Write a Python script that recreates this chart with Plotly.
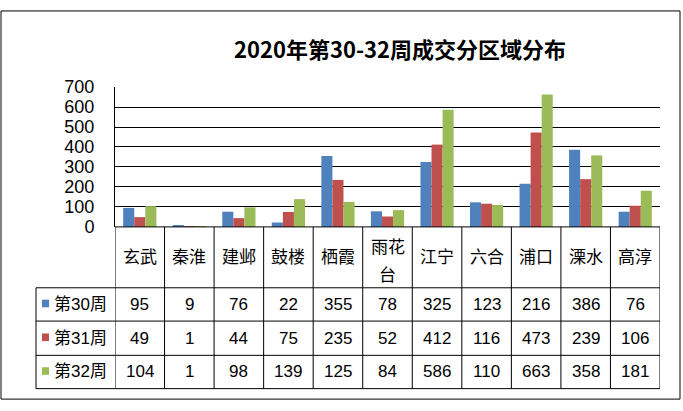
import plotly.graph_objects as go

categories = ["玄武", "秦淮", "建邺", "鼓楼", "栖霞", "雨花台", "江宁", "六合", "浦口", "溧水", "高淳"]
cat_labels = ["玄武", "秦淮", "建邺", "鼓楼", "栖霞", "雨花<br>台", "江宁", "六合", "浦口", "溧水", "高淳"]
series_names = ["第30周", "第31周", "第32周"]
week30 = [95, 9, 76, 22, 355, 78, 325, 123, 216, 386, 76]
week31 = [49, 1, 44, 75, 235, 52, 412, 116, 473, 239, 106]
week32 = [104, 1, 98, 139, 125, 84, 586, 110, 663, 358, 181]
colors = ["#4F81BD", "#C0504D", "#9BBB59"]
y_ticks = [0, 100, 200, 300, 400, 500, 600, 700]
title = "2020年第30-32周成交分区域分布"

W, H = 683, 411
def px(x): return x / W
def py(y): return 1 - y / H

FONT = "Liberation Sans, Noto Sans CJK SC, sans-serif"
CJK = "Noto Sans CJK SC, sans-serif"

fig = go.Figure()
all_series = [week30, week31, week32]
for name, vals, c in zip(series_names, all_series, colors):
    fig.add_trace(go.Bar(x=categories, y=vals, name=name, marker_color=c,
                         marker_line_width=0, showlegend=False))

x_left, x_right = 115, 660
y_top, y_base = 81, 228
row_y = [292, 327, 363, 398]

shapes = []
annotations = []
n = len(categories)
line = dict(color="black", width=1)
shapes.append(dict(type="line", xref="paper", yref="paper", x0=px(x_left), x1=px(x_right),
                   y0=py(y_base), y1=py(y_base), line=line))
for ry in row_y:
    shapes.append(dict(type="line", xref="paper", yref="paper", x0=px(36), x1=px(x_right),
                       y0=py(ry), y1=py(ry), line=line))
for i in range(n + 1):
    shapes.append(dict(type="line", xref="x", yref="paper", x0=i - 0.5, x1=i - 0.5,
                       y0=py(y_base), y1=py(row_y[-1]), line=line))
shapes.append(dict(type="line", xref="paper", yref="paper", x0=px(36), x1=px(36),
                   y0=py(row_y[0]), y1=py(row_y[-1]), line=line))
shapes.append(dict(type="rect", xref="paper", yref="paper", x0=px(1), x1=px(680),
                   y0=py(409), y1=py(1), line=line))

# category labels (multi-line labels spaced like the reference)
for cat, lab in zip(categories, cat_labels):
    parts = lab.split("<br>")
    if len(parts) == 1:
        ys = [(y_base + row_y[0]) / 2 - 2]
    else:
        ys = [248, 277]
    for part, yy in zip(parts, ys):
        annotations.append(dict(x=cat, y=py(yy), xref="x", yref="paper",
                                text=part, showarrow=False, font=dict(family=CJK, size=17, color="black"),
                                xanchor="center", yanchor="middle"))
for r, (name, vals, c) in enumerate(zip(series_names, all_series, colors)):
    yc = (row_y[r] + row_y[r + 1]) / 2
    shapes.append(dict(type="rect", xref="paper", yref="paper", x0=px(42), x1=px(49),
                       y0=py(yc - 5), y1=py(yc + 3), fillcolor=c, line=dict(width=0)))
    annotations.append(dict(x=px(52), y=py(yc), xref="paper", yref="paper", text=name,
                            showarrow=False, xanchor="left", yanchor="middle",
                            font=dict(family=FONT, size=17, color="black")))
    for cat, v in zip(categories, vals):
        annotations.append(dict(x=cat, y=py(yc), xref="x", yref="paper", text=str(v),
                                showarrow=False, xanchor="center", yanchor="middle",
                                font=dict(family=FONT, size=17, color="black")))

annotations.append(dict(x=px(400), y=py(40), xref="paper", yref="paper", text=f"<b>{title}</b>",
                        showarrow=False, xanchor="center", yanchor="middle",
                        font=dict(family=CJK, size=22, color="black")))

fig.update_layout(
    width=W, height=H, margin=dict(l=0, r=0, t=0, b=0),
    paper_bgcolor="white", plot_bgcolor="white",
    barmode="group", bargap=0.33, bargroupgap=0,
    shapes=shapes, annotations=annotations,
    xaxis=dict(domain=[px(x_left), px(x_right)], range=[-0.5, n - 0.5], showticklabels=False,
               showgrid=False, zeroline=False, showline=False, fixedrange=True),
    yaxis=dict(domain=[py(y_base), py(y_top)], range=[0, 700], tickvals=y_ticks,
               showgrid=True, gridcolor="black", gridwidth=1, zeroline=False,
               showline=True, linecolor="black", linewidth=1, ticks="",
               ticklabelstandoff=16, tickfont=dict(family=FONT, size=18, color="black")),
)

fig.write_html("out.html")
